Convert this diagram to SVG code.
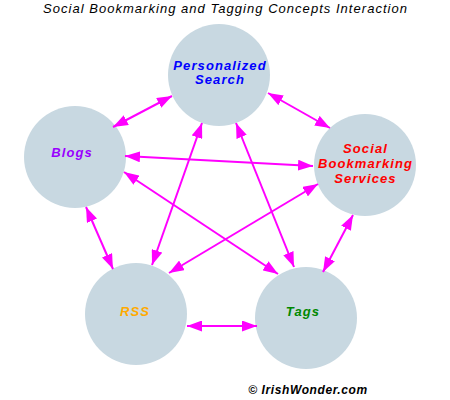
<svg xmlns="http://www.w3.org/2000/svg" width="450" height="400" viewBox="0 0 450 400">
<style>
.node{fill:#C8D8E1;}
.lbl{font-family:"Liberation Sans",Arial,sans-serif;font-size:13px;font-weight:bold;font-style:italic;text-anchor:middle;letter-spacing:1.1px;}
.con line{stroke:#FF00FF;stroke-width:2;marker-start:url(#ah);marker-end:url(#ah);}
</style>
<defs>
<marker id="ah" viewBox="0 0 15 11" refX="15" refY="5.5" markerWidth="15" markerHeight="11" markerUnits="userSpaceOnUse" orient="auto-start-reverse">
<path d="M0,0 L15,5.5 L0,11 z" fill="#FF00FF"/>
</marker>
</defs>
<rect width="450" height="400" fill="#FFFFFF"/>
<text x="225" y="13" font-family="Liberation Sans,Arial,sans-serif" font-size="13" font-style="italic" text-anchor="middle" textLength="364" lengthAdjust="spacing" fill="#000">Social Bookmarking and Tagging Concepts Interaction</text>
<g id="n-search"><circle class="node" cx="219" cy="75" r="51"/><text class="lbl" x="220" y="70" fill="#0000FF">Personalized</text><text class="lbl" x="220" y="84" fill="#0000FF">Search</text></g>
<g id="n-blogs"><circle class="node" cx="75" cy="157" r="51"/><text class="lbl" x="72" y="157" fill="#9900FF">Blogs</text></g>
<g id="n-sbs"><circle class="node" cx="365" cy="165" r="51"/><text class="lbl" x="365.5" y="153" fill="#FF0000">Social</text><text class="lbl" x="365.5" y="168" fill="#FF0000">Bookmarking</text><text class="lbl" x="365.5" y="183" fill="#FF0000">Services</text></g>
<g id="n-rss"><circle class="node" cx="136" cy="314" r="51"/><text class="lbl" x="135" y="316" fill="#FFAA00">RSS</text></g>
<g id="n-tags"><circle class="node" cx="306" cy="318" r="51"/><text class="lbl" x="303" y="316" fill="#008800">Tags</text></g>
<g class="con" id="connectors">
<line x1="113" y1="127" x2="172" y2="96"/>
<line x1="268" y1="93" x2="330" y2="128"/>
<line x1="125" y1="156" x2="313" y2="166"/>
<line x1="124" y1="172" x2="278" y2="274"/>
<line x1="202" y1="123" x2="152" y2="265"/>
<line x1="236" y1="123" x2="294" y2="267"/>
<line x1="318" y1="184" x2="169" y2="273"/>
<line x1="353" y1="215" x2="323" y2="272"/>
<line x1="86" y1="207" x2="113" y2="269"/>
<line x1="187" y1="326" x2="257" y2="326"/>
</g>
<text x="308" y="394" font-family="Liberation Sans,Arial,sans-serif" font-size="12" font-weight="bold" font-style="italic" letter-spacing="0.6" text-anchor="middle" fill="#000">© IrishWonder.com</text>
</svg>
